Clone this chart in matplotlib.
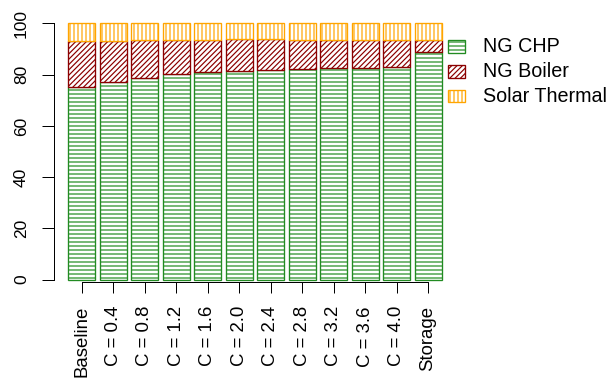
import matplotlib
matplotlib.use("Agg")
import matplotlib.pyplot as plt
from matplotlib.patches import Rectangle
import numpy as np

plt.rcParams["font.family"] = ["Liberation Sans", "DejaVu Sans"]
plt.rcParams["hatch.linewidth"] = 0.9

categories = ["Baseline", "C = 0.4", "C = 0.8", "C = 1.2", "C = 1.6", "C = 2.0",
              "C = 2.4", "C = 2.8", "C = 3.2", "C = 3.6", "C = 4.0", "Storage"]
ng_chp = [75.2, 77.2, 78.8, 80.1, 81.0, 81.6, 82.0, 82.3, 82.5, 82.7, 82.8, 88.7]
ng_boiler = [18.0, 15.9, 14.6, 13.4, 12.7, 12.4, 11.9, 11.4, 11.2, 11.0, 10.9, 5.0]
solar_thermal = [6.8, 6.9, 6.6, 6.5, 6.3, 6.0, 6.1, 6.3, 6.3, 6.3, 6.3, 6.3]

series_names = ["NG CHP", "NG Boiler", "Solar Thermal"]
series_colors = ["#228B22", "#8B0000", "#FFA500"]
series_hatches = ["----", "//////", "||||"]

W, H, DPI = 609, 382, 96
fig = plt.figure(figsize=(W / DPI, H / DPI), dpi=DPI)

# plot region in pixels
left_px, right_px = 54, 457
bottom_px, top_px = 279.5, 20.9
ax = fig.add_axes([left_px / W, 1 - bottom_px / H,
                   (right_px - left_px) / W, (bottom_px - top_px) / H])

x = np.arange(len(categories))
width = 0.86
bottom = np.zeros(len(categories))
for vals, col, hat in zip([ng_chp, ng_boiler, solar_thermal], series_colors, series_hatches):
    bars = ax.bar(x, vals, width, bottom=bottom, facecolor="white", edgecolor=col,
                  hatch=hat, linewidth=1.0, clip_on=False)
    for b in bars:
        if hasattr(b, "set_hatchcolor"):
            b.set_hatchcolor(col)
    bottom += np.array(vals)

ax.set_xlim(-0.887, 11.92)
ax.set_ylim(0, 101)

for s in ["top", "right"]:
    ax.spines[s].set_visible(False)
ax.spines["left"].set_bounds(0, 100)
ax.spines["bottom"].set_bounds(0, len(categories) - 1)
ax.spines["bottom"].set_position(("outward", 2))
for s in ["left", "bottom"]:
    ax.spines[s].set_linewidth(0.75)

ax.set_yticks([0, 20, 40, 60, 80, 100])
ax.set_yticklabels(["0", "20", "40", "60", "80", "100"], rotation=90, va="center")
ax.set_xticks(x)
ax.set_xticklabels(categories, rotation=90)
ax.tick_params(axis="y", length=8.9, width=0.75, pad=9.9, labelsize=13)
ax.tick_params(axis="x", length=8.3, width=0.75, pad=9.6, labelsize=14)

# legend drawn at the right of the plot region
box_w, box_h = 17, 12.5
box_x = 448
text_x = 483
row_y = [46.7, 71.4, 96.0]
for name, col, hat, yc in zip(series_names, series_colors, series_hatches, row_y):
    r = Rectangle((box_x / W, 1 - (yc + box_h / 2) / H), box_w / W, box_h / H,
                  transform=fig.transFigure, facecolor="white", edgecolor=col,
                  hatch=hat, linewidth=1.0)
    if hasattr(r, "set_hatchcolor"):
        r.set_hatchcolor(col)
    fig.add_artist(r)
    fig.text(text_x / W, 1 - yc / H, name, ha="left", va="center", fontsize=14.8)

fig.savefig("out.png", dpi=DPI)
